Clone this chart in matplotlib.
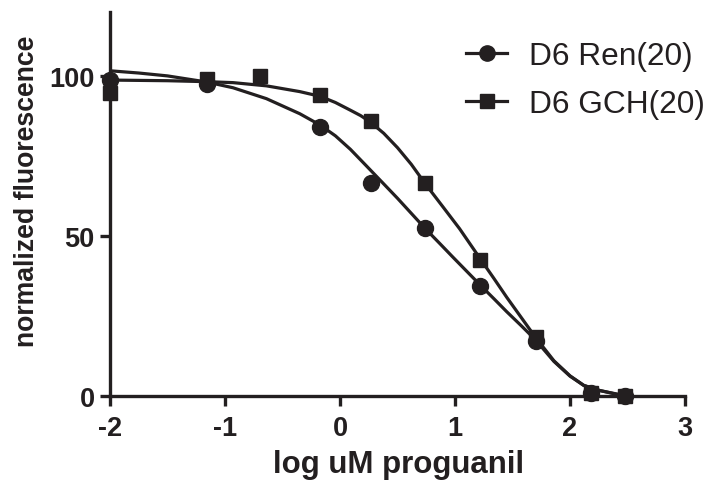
import matplotlib
matplotlib.use("Agg")
import matplotlib.pyplot as plt
from matplotlib.lines import Line2D

# ─── data ───────────────────────────────────────────────────────────────────────
ren_x = [-2.0, -1.16, -0.17, 0.27, 0.74, 1.22, 1.70, 2.18, 2.48]
ren_y = [98.5, 97.5, 84.0, 66.5, 52.4, 34.4, 17.3, 0.8, 0.0]
gch_x = [-2.0, -1.16, -0.70, -0.17, 0.27, 0.74, 1.22, 1.70, 2.18, 2.48]
gch_y = [94.5, 99.0, 100.0, 94.0, 85.7, 66.5, 42.3, 18.4, 0.8, 0.0]

# fitted curves
ren_fit_x = [-2.0, -1.75, -1.5, -1.16, -0.93, -0.64, -0.35, -0.17, -0.04, 0.09,
             0.23, 0.38, 0.5, 0.62, 0.74, 0.87, 0.98, 1.10, 1.22, 1.34, 1.45,
             1.58, 1.70, 1.86, 2.0, 2.12, 2.26, 2.41, 2.48]
ren_fit_y = [101.5, 100.8, 99.9, 98.0, 96.2, 92.8, 88.1, 84.5, 81.2, 77.0,
             71.8, 66.2, 61.7, 57.0, 52.3, 47.5, 43.4, 39.0, 34.6, 30.3, 26.3,
             21.8, 17.5, 10.8, 6.2, 3.3, 1.7, 0.5, 0.0]
gch_fit_x = [-2.0, -1.5, -1.16, -0.93, -0.64, -0.35, -0.17, -0.04, 0.09, 0.18,
             0.26, 0.38, 0.5, 0.62, 0.74, 0.9, 1.04, 1.22, 1.34, 1.45, 1.58,
             1.70, 1.86, 2.0, 2.12, 2.26, 2.41, 2.48]
gch_fit_y = [98.6, 98.4, 98.1, 97.8, 96.8, 95.0, 93.5, 91.6, 89.2, 87.5,
             85.6, 82.0, 77.5, 72.3, 66.3, 58.8, 52.2, 42.8, 36.6, 30.8, 24.3,
             18.3, 11.0, 6.3, 3.3, 1.7, 0.6, 0.0]

labels = ["D6 Ren(20)", "D6 GCH(20)"]
x_ticks = [-2, -1, 0, 1, 2, 3]
y_ticks = [0, 50, 100]

INK = "#231f20"
plt.rcParams["font.family"] = ["Liberation Sans", "DejaVu Sans"]

fig = plt.figure(figsize=(7.07, 4.85), dpi=100)
ax = fig.add_axes([110 / 707, 1 - 397 / 485, 575 / 707, 384.5 / 485])

ax.plot(ren_fit_x, ren_fit_y, color=INK, lw=2.3, solid_capstyle="butt",
        solid_joinstyle="round", zorder=2)
ax.plot(gch_fit_x, gch_fit_y, color=INK, lw=2.3, solid_capstyle="butt",
        solid_joinstyle="round", zorder=2)
ax.plot(ren_x, ren_y, ls="none", marker="o", ms=11.5, color=INK, clip_on=False, zorder=4)
ax.plot(gch_x, gch_y, ls="none", marker="s", ms=10.5, color=INK, clip_on=False, zorder=5)

ax.set_xlim(-2, 3)
ax.set_ylim(0, 120)
ax.set_xticks(x_ticks)
ax.set_yticks(y_ticks)
ax.set_xticklabels([str(t) for t in x_ticks])
ax.set_yticklabels([str(t) for t in y_ticks])

for s in ["top", "right"]:
    ax.spines[s].set_visible(False)
for s in ["left", "bottom"]:
    ax.spines[s].set_linewidth(2.4)
    ax.spines[s].set_color(INK)
ax.tick_params(direction="out", length=7, width=2.4, color=INK,
               labelcolor=INK, labelsize=19.5)
ax.tick_params(axis="x", pad=7)
ax.tick_params(axis="y", pad=4)
for lab in ax.get_xticklabels() + ax.get_yticklabels():
    lab.set_fontweight("bold")

fig.text(399 / 707, 1 - 465 / 485, "log uM proguanil", ha="center", va="center",
         fontsize=22.5, fontweight="bold", color=INK)
fig.text(27 / 707, 1 - 191 / 485, "normalized fluorescence", ha="center", va="center",
         rotation=90, fontsize=19.2, fontweight="bold", color=INK)

handles = [Line2D([], [], color=INK, lw=2.3, marker="o", ms=11),
           Line2D([], [], color=INK, lw=2.3, marker="s", ms=10)]
ax.legend(handles, labels, loc="upper left", bbox_to_anchor=(466 / 707, 1 - 42 / 485),
          bbox_transform=fig.transFigure, frameon=False, fontsize=22.8,
          handlelength=1.3, handletextpad=0.7, labelspacing=0.57,
          borderpad=0, borderaxespad=0, labelcolor=INK)

fig.savefig("out.png", dpi=100)
